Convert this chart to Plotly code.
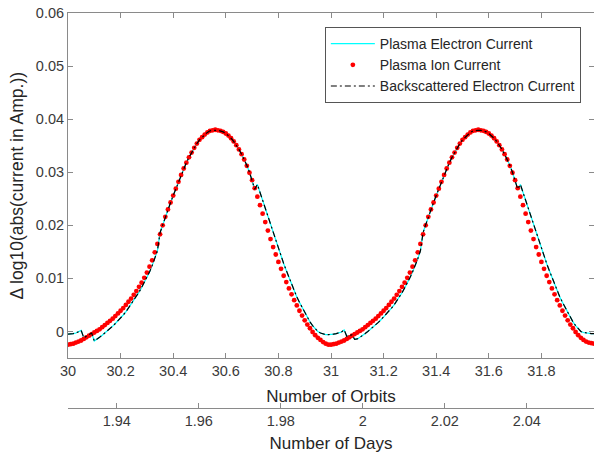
import plotly.graph_objects as go

# ---------------- data ----------------
# sample grid: orbits 30.00 .. 32.00, step 0.01
orbits = [round(30 + 0.01 * i, 2) for i in range(201)]

# Plasma Ion Current (red dots)
ion_orbit1 = [
    -0.0025, -0.0024, -0.0023, -0.0021, -0.0019, -0.0017, -0.0014, -0.0011, -0.0008, -0.0005,
    -0.0002, 0.0001, 0.0004, 0.0008, 0.0012, 0.0016, 0.0020, 0.0024, 0.0029, 0.0034,
    0.0039, 0.0044, 0.0050, 0.0056, 0.0062, 0.0069, 0.0076, 0.0084, 0.0092, 0.0101,
    0.0111, 0.0122, 0.0134, 0.0149, 0.0165, 0.0183, 0.0200, 0.0216, 0.0230, 0.0243,
    0.0256, 0.0269, 0.0282, 0.0295, 0.0307, 0.0318, 0.0328, 0.0337, 0.0346, 0.0354,
    0.0361, 0.0366, 0.0371, 0.0375, 0.0378, 0.0379, 0.0380, 0.0379, 0.0378, 0.0376,
    0.0373, 0.0369, 0.0364, 0.0358, 0.0351, 0.0343, 0.0334, 0.0324, 0.0312, 0.0299,
    0.0285, 0.0270, 0.0254, 0.0238, 0.0222, 0.0206, 0.0190, 0.0174, 0.0159, 0.0145,
    0.0131, 0.0118, 0.0105, 0.0093, 0.0081, 0.0070, 0.0059, 0.0049, 0.0039, 0.0030,
    0.0021, 0.0013, 0.0006, -0.0001, -0.0007, -0.0012, -0.0016, -0.0020, -0.0023, -0.0025,
]
ion_orbit2 = [
    -0.0025, -0.0024, -0.0023, -0.0021, -0.0019, -0.0017, -0.0014, -0.0011, -0.0008, -0.0005,
    -0.0002, 0.0001, 0.0004, 0.0008, 0.0012, 0.0016, 0.0020, 0.0024, 0.0029, 0.0034,
    0.0039, 0.0044, 0.0050, 0.0056, 0.0062, 0.0069, 0.0076, 0.0084, 0.0092, 0.0101,
    0.0111, 0.0122, 0.0134, 0.0149, 0.0165, 0.0183, 0.0200, 0.0216, 0.0230, 0.0243,
    0.0256, 0.0269, 0.0282, 0.0295, 0.0307, 0.0318, 0.0328, 0.0337, 0.0346, 0.0354,
    0.0361, 0.0366, 0.0371, 0.0375, 0.0378, 0.0379, 0.0380, 0.0379, 0.0378, 0.0376,
    0.0373, 0.0369, 0.0364, 0.0358, 0.0351, 0.0343, 0.0334, 0.0324, 0.0312, 0.0299,
    0.0285, 0.0270, 0.0254, 0.0238, 0.0222, 0.0206, 0.0190, 0.0174, 0.0159, 0.0145,
    0.0131, 0.0118, 0.0105, 0.0093, 0.0081, 0.0070, 0.0059, 0.0049, 0.0039, 0.0030,
    0.0021, 0.0013, 0.0006, -0.0001, -0.0007, -0.0012, -0.0016, -0.0019, -0.0021, -0.0022,
    -0.0023,
]

# Plasma Electron Current and Backscattered Electron Current (coincide)
electron_orbit1 = [
    -0.0005, -0.0005, -0.0004, -0.0003, -0.0001, 0.0002, -0.0012, -0.0009, -0.0006, -0.0003,
    -0.0018, -0.0015, -0.0011, -0.0007, -0.0003, 0.0001, 0.0005, 0.0010, 0.0015, 0.0020,
    0.0025, 0.0031, 0.0037, 0.0044, 0.0051, 0.0058, 0.0066, 0.0074, 0.0083, 0.0092,
    0.0102, 0.0112, 0.0124, 0.0137, 0.0152, 0.0186, 0.0201, 0.0216, 0.0230, 0.0243,
    0.0256, 0.0269, 0.0282, 0.0295, 0.0307, 0.0318, 0.0328, 0.0337, 0.0346, 0.0354,
    0.0361, 0.0366, 0.0371, 0.0375, 0.0378, 0.0379, 0.0379, 0.0379, 0.0378, 0.0376,
    0.0373, 0.0369, 0.0364, 0.0358, 0.0351, 0.0343, 0.0334, 0.0324, 0.0313, 0.0300,
    0.0286, 0.0268, 0.0277, 0.0262, 0.0247, 0.0232, 0.0216, 0.0200, 0.0185, 0.0170,
    0.0156, 0.0142, 0.0128, 0.0115, 0.0102, 0.0088, 0.0076, 0.0065, 0.0055, 0.0045,
    0.0035, 0.0026, 0.0018, 0.0011, 0.0005, 0.0000, -0.0003, -0.0005, -0.0006, -0.0006,
]
electron_orbit2 = [
    -0.0006, -0.0005, -0.0004, -0.0002, -0.0001, 0.0003, -0.0009, -0.0008, -0.0006, -0.0015,
    -0.0014, -0.0011, -0.0008, -0.0004, 0.0000, 0.0004, 0.0008, 0.0012, 0.0017, 0.0022,
    0.0027, 0.0032, 0.0038, 0.0044, 0.0050, 0.0057, 0.0065, 0.0073, 0.0082, 0.0091,
    0.0101, 0.0112, 0.0124, 0.0137, 0.0152, 0.0186, 0.0201, 0.0216, 0.0230, 0.0243,
    0.0256, 0.0269, 0.0282, 0.0295, 0.0307, 0.0318, 0.0328, 0.0337, 0.0346, 0.0354,
    0.0361, 0.0366, 0.0371, 0.0375, 0.0378, 0.0379, 0.0379, 0.0379, 0.0378, 0.0376,
    0.0373, 0.0369, 0.0364, 0.0358, 0.0351, 0.0343, 0.0334, 0.0324, 0.0313, 0.0300,
    0.0286, 0.0268, 0.0277, 0.0262, 0.0247, 0.0232, 0.0216, 0.0200, 0.0185, 0.0170,
    0.0156, 0.0142, 0.0128, 0.0115, 0.0102, 0.0088, 0.0076, 0.0065, 0.0055, 0.0045,
    0.0035, 0.0026, 0.0018, 0.0011, 0.0005, 0.0000, -0.0002, -0.0003, -0.0004, -0.0004,
    -0.0004,
]

ion_current = ion_orbit1 + ion_orbit2
electron_current = electron_orbit1 + electron_orbit2
backscattered_current = electron_orbit1 + electron_orbit2

orbit_range = [30, 32]
days_range = [1.9281, 2.0564]   # days corresponding to orbit 30 and 32
y_range = [-0.005, 0.06]
y_title = "Δ log10(abs(current in Amp.))"

# ---------------- styling ----------------
FONT = "Liberation Sans, Arial, sans-serif"
AX = "#8a8a8a"
TXT = "#3a3a3a"
TITLE = "#262626"
Y_DOMAIN = [0.1266, 1]

fig = go.Figure()
fig.add_trace(go.Scatter(
    x=orbits, y=electron_current, mode="lines", name="Plasma Electron Current",
    line=dict(color="#00ffff", width=1.2),
))
fig.add_trace(go.Scatter(
    x=orbits, y=ion_current, mode="markers", name="Plasma Ion Current",
    marker=dict(color="#ff0000", size=4.8, line=dict(width=0)),
))
fig.add_trace(go.Scatter(
    x=orbits, y=backscattered_current, mode="lines", name="Backscattered Electron Current",
    line=dict(color="#000000", width=1.2, dash="6px,3px,2px,3px"),
))
# secondary (days) axis carrier
fig.add_trace(go.Scatter(
    x=days_range, y=[None, None], xaxis="x2", yaxis="y", mode="lines",
    showlegend=False, hoverinfo="skip",
))

axis_common = dict(
    showgrid=False, zeroline=False, showline=True, linecolor=AX, linewidth=1,
    ticks="inside", ticklen=5, tickcolor=AX, tickwidth=1,
    tickfont=dict(family=FONT, size=14.5, color=TXT),
)

fig.update_layout(
    width=594, height=458,
    margin=dict(l=68, r=0, t=13, b=50),
    paper_bgcolor="white", plot_bgcolor="white",
    font=dict(family=FONT, color=TITLE),
    showlegend=True,
    legend=dict(
        x=0.975, y=0.9646, xanchor="right", yanchor="top",
        bgcolor="white", bordercolor="#555555", borderwidth=1,
        font=dict(family=FONT, size=14, color=TITLE),
        tracegroupgap=0, itemwidth=44,
    ),
    xaxis=dict(
        range=orbit_range, tick0=30, dtick=0.2, mirror="ticks", anchor="y",
        title=dict(text="Number of Orbits", font=dict(family=FONT, size=17, color=TITLE), standoff=11),
        **axis_common,
    ),
    yaxis=dict(
        range=y_range, tick0=0, dtick=0.01, mirror="ticks", domain=Y_DOMAIN,
        ticklabelstandoff=0,
        **axis_common,
    ),
    xaxis2=dict(
        range=days_range, tick0=1.94, dtick=0.02, overlaying="x", anchor="free", position=0,
        side="bottom",
        title=dict(text="Number of Days", font=dict(family=FONT, size=17, color=TITLE), standoff=8),
        **axis_common,
    ),
    annotations=[dict(
        text=y_title, xref="paper", yref="paper",
        x=0, xshift=-51, y=(Y_DOMAIN[0] + Y_DOMAIN[1]) / 2,
        xanchor="center", yanchor="middle", textangle=-90, showarrow=False,
        font=dict(family=FONT, size=17.5, color=TITLE),
    )],
)

fig.write_html("out.html", config={"displayModeBar": False},
               post_script="document.body.style.margin='0px';")
